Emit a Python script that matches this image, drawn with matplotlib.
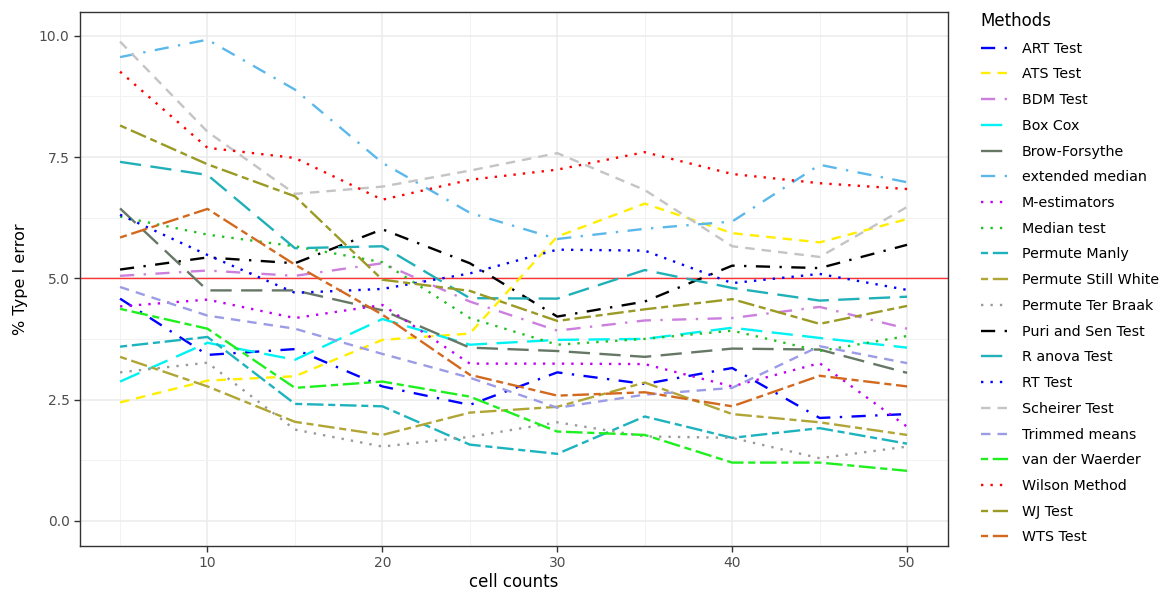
import numpy as np
import matplotlib
matplotlib.use("Agg")
import matplotlib.pyplot as plt

plt.rcParams['font.family'] = ['DejaVu Sans']

cell_counts = [5, 10, 15, 20, 25, 30, 35, 40, 45, 50]

methods = ["ART Test", "ATS Test", "BDM Test", "Box Cox", "Brow-Forsythe",
           "extended median", "M-estimators", "Median test", "Permute Manly",
           "Permute Still White", "Permute Ter Braak", "Puri and Sen Test",
           "R anova Test", "RT Test", "Scheirer Test", "Trimmed means",
           "van der Waerder", "Wilson Method", "WJ Test", "WTS Test"]

art_test = [4.58, 3.42, 3.54, 2.77, 2.39, 3.06, 2.82, 3.15, 2.12, 2.20]
ats_test = [2.44, 2.89, 2.98, 3.73, 3.86, 5.86, 6.54, 5.93, 5.74, 6.22]
bdm_test = [5.05, 5.16, 5.05, 5.31, 4.52, 3.92, 4.13, 4.18, 4.41, 3.96]
box_cox = [2.87, 3.67, 3.32, 4.16, 3.63, 3.73, 3.75, 3.98, 3.77, 3.57]
brow_forsythe = [6.44, 4.75, 4.75, 4.34, 3.57, 3.50, 3.38, 3.55, 3.53, 3.05]
extended_median = [9.56, 9.92, 8.89, 7.38, 6.35, 5.81, 6.02, 6.17, 7.34, 6.98]
m_estimators = [4.42, 4.56, 4.18, 4.45, 3.24, 3.24, 3.23, 2.77, 3.25, 1.94]
median_test = [6.27, 5.90, 5.66, 5.33, 4.18, 3.63, 3.75, 3.92, 3.50, 3.81]
permute_manly = [3.59, 3.79, 2.41, 2.36, 1.57, 1.38, 2.15, 1.71, 1.91, 1.59]
permute_still_white = [3.38, 2.77, 2.04, 1.77, 2.23, 2.35, 2.85, 2.20, 2.03, 1.77]
permute_ter_braak = [3.06, 3.26, 1.88, 1.53, 1.73, 2.03, 1.74, 1.71, 1.29, 1.53]
puri_sen = [5.18, 5.43, 5.31, 6.01, 5.31, 4.21, 4.52, 5.26, 5.21, 5.69]
r_anova = [7.40, 7.13, 5.62, 5.66, 4.59, 4.58, 5.17, 4.80, 4.54, 4.62]
rt_test = [6.31, 5.48, 4.70, 4.78, 5.10, 5.59, 5.57, 4.90, 5.09, 4.76]
scheirer = [9.88, 8.02, 6.74, 6.89, 7.22, 7.58, 6.82, 5.66, 5.44, 6.47]
trimmed_means = [4.82, 4.23, 3.96, 3.44, 2.95, 2.33, 2.60, 2.74, 3.60, 3.25]
van_der_waerder = [4.37, 3.96, 2.74, 2.87, 2.56, 1.84, 1.77, 1.20, 1.20, 1.03]
wilson = [9.26, 7.69, 7.48, 6.62, 7.03, 7.24, 7.60, 7.15, 6.96, 6.84]
wj_test = [8.15, 7.35, 6.69, 4.97, 4.74, 4.12, 4.36, 4.57, 4.06, 4.43]
wts_test = [5.84, 6.43, 5.28, 4.25, 3.01, 2.58, 2.65, 2.36, 2.99, 2.77]

series = [art_test, ats_test, bdm_test, box_cox, brow_forsythe, extended_median,
          m_estimators, median_test, permute_manly, permute_still_white,
          permute_ter_braak, puri_sen, r_anova, rt_test, scheirer, trimmed_means,
          van_der_waerder, wilson, wj_test, wts_test]

colors = ["#0000FF", "#FFEE00", "#CC7FDD", "#00F2F2", "#667766", "#5BB8EA",
          "#C000F5", "#22C022", "#1DB3BE", "#B0A535", "#9A9A9A", "#000000",
          "#1FB0B8", "#0000FF", "#C4C4C4", "#9C9CE6", "#1EF01E", "#FF0000",
          "#9A9A25", "#D2691E"]

dashdot = (0, (6, 4, 1, 4))
dashed = (0, (4, 3))
longdash = (0, (9, 4))
dotted = (0, (1, 3))
twodash = (0, (3, 2, 7, 2))
styles = [dashdot, dashed, dashdot, longdash, longdash, dashdot,
          dotted, dotted, twodash, twodash, dotted, dashdot,
          longdash, dotted, dashed, dashed, twodash, dotted, twodash, twodash]

fig = plt.figure(figsize=(11.7, 5.9), dpi=100)
ax = fig.add_axes([80 / 1170, 44 / 590, 868 / 1170, 534 / 590])

for vals, name, c, ls in zip(series, methods, colors, styles):
    ax.plot(cell_counts, vals, color=c, linestyle=ls, linewidth=1.7, label=name)

ax.axhline(5, color="#FF3333", linewidth=1.0, zorder=1)

ax.set_xlim(2.71, 52.34)
ax.set_ylim(-0.52, 10.49)
ax.set_xticks([10, 20, 30, 40, 50])
ax.set_yticks([0, 2.5, 5, 7.5, 10])
ax.set_yticklabels(["0.0", "2.5", "5.0", "7.5", "10.0"])
ax.set_xticks([5, 15, 25, 35, 45], minor=True)
ax.set_yticks([1.25, 3.75, 6.25, 8.75], minor=True)
ax.grid(which="major", color="#EBEBEB", linewidth=1.1, zorder=0)
ax.grid(which="minor", color="#F2F2F2", linewidth=0.7, zorder=0)
ax.set_axisbelow(True)
ax.tick_params(which="major", length=4, color="#333333", labelsize=10,
               labelcolor="#4D4D4D", width=1)
ax.tick_params(which="minor", length=0)
for s in ax.spines.values():
    s.set_color("#333333")
    s.set_linewidth(1)

ax.set_xlabel("cell counts", fontsize=12, labelpad=2)
ax.set_ylabel("% Type I error", fontsize=11.5, labelpad=8)

handles, labels = ax.get_legend_handles_labels()
leg = fig.legend(handles, labels, loc="upper left", bbox_to_anchor=(968 / 1170, 1 + 1 / 590),
                 title="Methods", frameon=False, fontsize=10.3, title_fontsize=12,
                 handlelength=1.9, handletextpad=0.95, labelspacing=0.82,
                 alignment="left")

fig.savefig("out.png", dpi=100)
